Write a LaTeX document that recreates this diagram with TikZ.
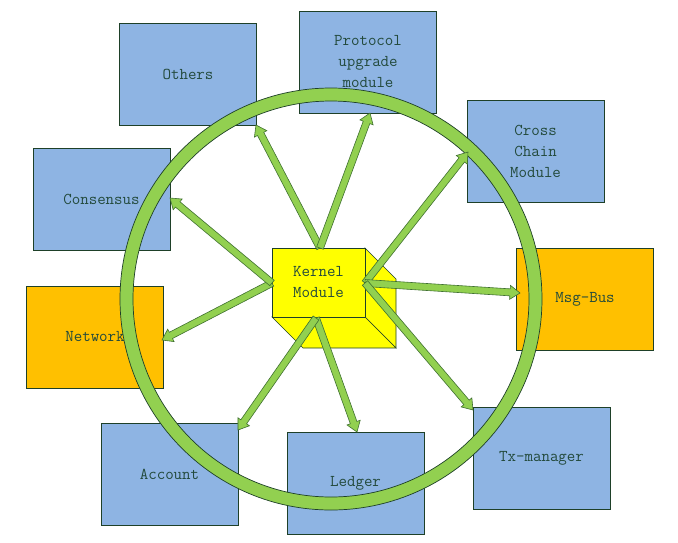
\documentclass[tikz,border=0pt]{standalone}
\usetikzlibrary{calc}
\definecolor{boxblue}{HTML}{8EB4E3}
\definecolor{boxorange}{HTML}{FFC000}
\definecolor{ringgreen}{HTML}{92D050}
\definecolor{kernelyellow}{HTML}{FFFF00}
\definecolor{boxline}{HTML}{1E4028}
\definecolor{arrowline}{HTML}{3F7030}
\definecolor{txtcol}{HTML}{234A3C}
\newcommand\blockarrow[2]{%
  \coordinate (hb) at ($(#2)!10pt!(#1)$);
  \draw[arrowbody] ($(#1)!3.5pt!90:(#2)$) -- ($(hb)!3.5pt!-90:(#1)$) -- ($(hb)!7pt!-90:(#1)$) -- (#2)
    -- ($(hb)!7pt!90:(#1)$) -- ($(hb)!3.5pt!90:(#1)$) -- ($(#1)!3.5pt!-90:(#2)$) -- cycle;
}
\begin{document}
\begin{tikzpicture}[x=1pt,y=-1pt,
  modbox/.style={draw=boxline, line width=0.8pt, fill=#1, minimum width=137pt, minimum height=102pt,
    inner sep=0pt, align=center, text=txtcol, font=\ttfamily\fontsize{16.5}{21}\selectfont},
  arrowbody/.style={draw=arrowline, line width=0.6pt, fill=ringgreen},
  cubeface/.style={draw=boxline, line width=0.6pt, fill=kernelyellow}]
\useasboundingbox (0,0) rectangle (678,542);
% module boxes
\node[modbox=boxblue] (others) at (188,74) {Others};
\node[modbox=boxblue] (protocol) at (368,62) {Protocol\\upgrade\\module};
\node[modbox=boxblue] (cross) at (535.5,151.5) {Cross\\Chain\\Module};
\node[modbox=boxblue] (consensus) at (101.5,199) {Consensus};
\node[modbox=boxorange] (network) at (95,337) {Network};
\node[modbox=boxorange] (msgbus) at (585,299) {Msg-Bus};
\node[modbox=boxblue] (account) at (169.5,474) {Account};
\node[modbox=boxblue] (ledger) at (355.5,483) {Ledger};
\node[modbox=boxblue] (txman) at (541.5,458.5) {Tx-manager};
% ring
\coordinate (rc) at (331,299);
\path[draw=boxline, line width=0.7pt, fill=ringgreen, even odd rule] (rc) circle (211pt) (rc) circle (198pt);
% kernel cube
\draw[cubeface] (365,248) -- (396,279) -- (396,348) -- (365,317) -- cycle;
\draw[cubeface] (272,317) -- (303,348) -- (396,348) -- (365,317) -- cycle;
\node[draw=boxline, line width=0.8pt, fill=kernelyellow, minimum width=93pt, minimum height=69pt,
  inner sep=0pt, align=center, text=txtcol, font=\ttfamily\fontsize{16.5}{21}\selectfont]
  (kernel) at (318.5,282.5) {Kernel\\Module};
% arrow ends
\coordinate (kT) at (320,248);
\coordinate (kR) at (365,283);
\coordinate (kB) at (316,318);
\coordinate (kL) at (272,283);
\coordinate (eOthers) at (256,125);
\coordinate (eProtocol) at (370,113);
\coordinate (eCross) at (468,152);
\coordinate (eMsg) at (520,293);
\coordinate (eTx) at (473,410);
\coordinate (eLedger) at (357,432);
\coordinate (eAccount) at (238,430);
\coordinate (eNetwork) at (162,340);
\coordinate (eConsensus) at (170,198);
\blockarrow{kT}{eOthers}
\blockarrow{kT}{eProtocol}
\blockarrow{kR}{eCross}
\blockarrow{kR}{eMsg}
\blockarrow{kR}{eTx}
\blockarrow{kB}{eLedger}
\blockarrow{kB}{eAccount}
\blockarrow{kL}{eNetwork}
\blockarrow{kL}{eConsensus}
\end{tikzpicture}
\end{document}
